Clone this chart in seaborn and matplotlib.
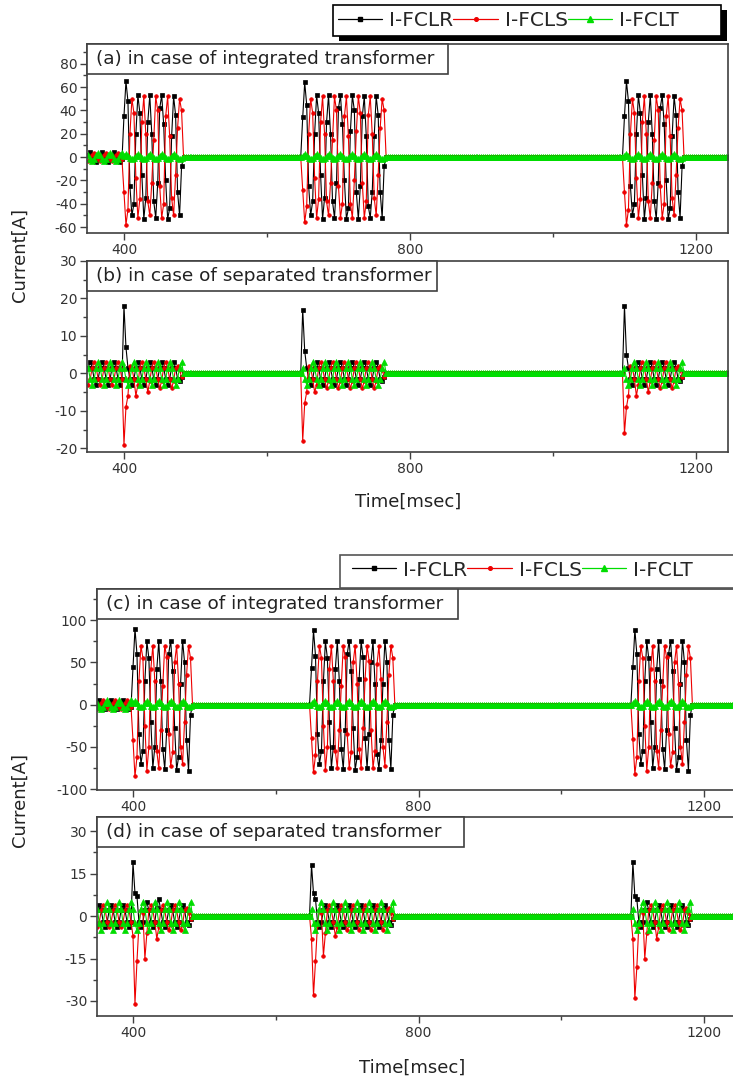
import numpy as np
import pandas as pd
import matplotlib
matplotlib.use("Agg")
import matplotlib.pyplot as plt
from matplotlib.patches import Rectangle
from matplotlib.lines import Line2D
from matplotlib.ticker import MultipleLocator, FixedLocator
import seaborn as sns

# ---------------------------------------------------------------- data
# sampling clock: 6 samples per 60 Hz cycle, 350 ms .. 1250 ms
T0 = 350.0
DT = 1000.0 / 60.0 / 6.0
N_SAMPLES = 325
FAULT_START_MS = [400, 650, 1100]          # three fault events
SERIES = ["I-FCLR", "I-FCLS", "I-FCLT"]
TIME_TICKS = [400, 800, 1200]
PANEL_TITLES = ["(a) in case of integrated transformer",
                "(b) in case of separated transformer",
                "(c) in case of integrated transformer",
                "(d) in case of separated transformer"]

# each series: [pre-fault cycles, event-1 cycles, event-2 cycles, event-3 cycles]
# (values outside these segments are flat at 0 A)
A_R = [[[2, 4, 2, -2, -4, -2]] * 3,
       [[35, 65, 48, -25, -50, -40], [20, 53, 38, -15, -53, -35], [30, 53, 20, -38, -52, -22],
        [42, 53, 28, -20, -53, -44], [18, 52, 36, -30, -50, -8]],
       [[34, 64, 45, -25, -50, -38], [20, 53, 38, -15, -53, -35], [30, 53, 20, -38, -52, -22],
        [42, 53, 28, -20, -53, -44], [22, 53, 40, -30, -53, -25], [35, 52, 18, -42, -52, -30],
        [18, 52, 36, -30, -52, -8]],
       [[35, 65, 48, -25, -50, -40], [20, 53, 38, -15, -53, -35], [30, 53, 20, -38, -53, -22],
        [42, 53, 28, -20, -53, -44], [18, 52, 36, -30, -52, -8]]]
A_S = [[[-3.5, -2, 2, 3.5, 2, -2]] * 3,
       [[-30, -58, -45, 20, 50, 38], [-18, -52, -36, 30, 52, 20], [-38, -50, -22, 15, 52, 40],
        [-25, -52, -40, 35, 52, 18], [-35, -50, -15, 25, 50, 40]],
       [[-28, -56, -42, 20, 50, 38], [-18, -52, -36, 30, 52, 20], [-38, -50, -22, 15, 52, 40],
        [-25, -52, -40, 35, 52, 18], [-40, -52, -20, 22, 52, 38], [-22, -52, -38, 36, 52, 20],
        [-35, -50, -15, 25, 50, 40]],
       [[-30, -58, -45, 20, 50, 38], [-18, -52, -36, 30, 52, 20], [-38, -52, -22, 15, 52, 40],
        [-25, -52, -40, 35, 52, 18], [-35, -50, -15, 25, 50, 40]]]
A_T = [[[2, -2, -3.5, -2, 2, 3.5]] * 3,
       [[1, 3, 1, -1, -2, -1]] * 5,
       [[1, 3, 1, -1, -2, -1]] * 7,
       [[1, 3, 1, -1, -2, -1]] * 5]

B_R = [[[1.5, 3, 1.5, -1.5, -3, -1.5]] * 3,
       [[18, 7, 1.5, -1.5, -3, -1.5]] + [[1.5, 3, 1.5, -1.5, -3, -1.5]] * 3 + [[1.5, 3, 1.5, -1.5, -2, -1]],
       [[17, 6, 1.5, -1.5, -3, -1.5]] + [[1.5, 3, 1.5, -1.5, -3, -1.5]] * 5 + [[1.5, 3, 1.5, -1.5, -2, -1]],
       [[18, 5, 1.5, -1.5, -3, -1.5]] + [[1.5, 3, 1.5, -1.5, -3, -1.5]] * 3 + [[1.5, 3, 1.5, -1.5, -2, -1]]]
B_S = [[[-3, -1.5, 1.5, 3, 1.5, -1.5]] * 3,
       [[-19, -9, -6, 2, 1.5, -1.5], [-6, -3, 1.5, 3, 1.5, -1.5], [-5, -2, 1.5, 3, 1.5, -1.5],
        [-4, -2, 1.5, 3, 1.5, -1.5], [-4, -2, 1.5, 2, 1, -1]],
       [[-18, -8, -5, 2, 1.5, -1.5], [-5, -3, 1.5, 3, 1.5, -1.5]] + [[-4, -2, 1.5, 3, 1.5, -1.5]] * 4
       + [[-4, -2, 1.5, 2, 1, -1]],
       [[-16, -9, -6, 2, 1.5, -1.5], [-6, -3, 1.5, 3, 1.5, -1.5], [-5, -2, 1.5, 3, 1.5, -1.5],
        [-4, -2, 1.5, 3, 1.5, -1.5], [-4, -2, 1.5, 2, 1, -1]]]
B_T = [[[1.5, -1.5, -3, -1.5, 1.5, 3]] * 3,
       [[1.5, -1.5, -3, -1.5, 1.5, 3]] * 5,
       [[1.5, -1.5, -3, -1.5, 1.5, 3]] * 7,
       [[1.5, -1.5, -3, -1.5, 1.5, 3]] * 5]

C_R = [[[2.5, 5, 2.5, -2.5, -5, -2.5]] * 3,
       [[45, 90, 60, -35, -70, -55], [28, 75, 55, -20, -75, -50], [42, 75, 28, -52, -76, -30],
        [60, 76, 40, -28, -77, -62], [25, 76, 50, -42, -78, -12]],
       [[44, 88, 58, -35, -70, -55], [28, 75, 55, -20, -75, -50], [42, 75, 28, -52, -76, -30],
        [60, 76, 40, -28, -77, -62], [30, 75, 56, -40, -75, -35], [50, 75, 25, -58, -76, -42],
        [25, 76, 50, -42, -76, -12]],
       [[45, 89, 60, -35, -70, -55], [28, 75, 55, -20, -75, -50], [42, 75, 28, -52, -76, -30],
        [60, 76, 40, -28, -77, -62], [25, 76, 50, -42, -78, -12]]]
C_S = [[[-5, -2.5, 2.5, 5, 2.5, -2.5]] * 3,
       [[-42, -85, -62, 28, 70, 55], [-25, -78, -50, 42, 70, 28], [-55, -75, -30, 22, 70, 56],
        [-35, -73, -56, 50, 70, 25], [-50, -70, -20, 35, 70, 55]],
       [[-40, -80, -60, 28, 70, 55], [-25, -77, -50, 42, 70, 28], [-55, -75, -30, 22, 70, 56],
        [-35, -75, -56, 50, 70, 25], [-52, -75, -28, 30, 70, 52], [-30, -75, -55, 48, 70, 30],
        [-50, -72, -20, 35, 70, 55]],
       [[-41, -82, -62, 28, 70, 55], [-25, -78, -50, 42, 70, 28], [-55, -75, -30, 22, 70, 56],
        [-35, -73, -56, 50, 70, 25], [-50, -70, -20, 35, 70, 55]]]
C_T = [[[2.5, -2.5, -5, -2.5, 2.5, 5]] * 3,
       [[1.5, 4, 1.5, -1.5, -3, -1.5]] * 5,
       [[1.5, 4, 1.5, -1.5, -3, -1.5]] * 7,
       [[1.5, 4, 1.5, -1.5, -3, -1.5]] * 5]

D_R = [[[2, 4, 2, -2, -4, -2]] * 3,
       [[19, 8, 7, -2, -4, -2], [2, 5, 2, -2, -4, -2], [3, 6, 2, -2, -4, -2],
        [2, 4, 2, -2, -4, -2], [2, 4, 2, -2, -3, -1]],
       [[18, 8, 6, -2, -4, -2]] + [[2, 4, 2, -2, -4, -2]] * 5 + [[2, 4, 2, -2, -3, -1]],
       [[19, 7, 6, -2, -4, -2], [2, 5, 2, -2, -4, -2], [2, 4, 2, -2, -4, -2],
        [2, 4, 2, -2, -4, -2], [2, 4, 2, -2, -3, -1]]]
D_S = [[[-4, -2, 2, 4, 2, -2]] * 3,
       [[-7, -31, -16, -3, 2, 1], [-15, -6, 2, 4, 2, -2], [-8, -4, 2, 4, 2, -2],
        [-5, -3, 2, 4, 2, -2], [-5, -3, 2, 3, 1, -1]],
       [[-8, -28, -16, -3, 2, 1], [-14, -6, 2, 4, 2, -2], [-7, -4, 2, 4, 2, -2]]
       + [[-5, -3, 2, 4, 2, -2]] * 3 + [[-5, -3, 2, 3, 1, -1]],
       [[-8, -29, -18, -3, 2, 1], [-15, -6, 2, 4, 2, -2], [-8, -4, 2, 4, 2, -2],
        [-5, -3, 2, 4, 2, -2], [-5, -3, 2, 3, 1, -1]]]
D_T = [[[2.5, -2.5, -5, -2.5, 2.5, 5]] * 3,
       [[2.5, -2.5, -5, -2.5, 2.5, 5]] * 5,
       [[2.5, -2.5, -5, -2.5, 2.5, 5]] * 7,
       [[2.5, -2.5, -5, -2.5, 2.5, 5]] * 5]

PANEL_DATA = [(A_R, A_S, A_T), (B_R, B_S, B_T), (C_R, C_S, C_T), (D_R, D_S, D_T)]

times = T0 + DT * np.arange(N_SAMPLES)


def assemble(segments):
    vals = np.zeros(N_SAMPLES)
    flat = lambda cyc: [v for c in cyc for v in c]
    pre = flat(segments[0])
    vals[:len(pre)] = pre
    for start_ms, seg in zip(FAULT_START_MS, segments[1:]):
        i0 = int(round((start_ms - T0) / DT))
        ev = flat(seg)
        vals[i0:i0 + len(ev)] = ev
    return vals


frames = []
for p, triple in enumerate(PANEL_DATA):
    for name, segs in zip(SERIES, triple):
        frames.append(pd.DataFrame({"panel": p, "series": name,
                                    "time": times, "current": assemble(segs)}))
df = pd.concat(frames, ignore_index=True)

# ---------------------------------------------------------------- style
sns.set_style("ticks")
plt.rcParams["font.family"] = ["DejaVu Sans"]
plt.rcParams["axes.unicode_minus"] = False

COLORS = {"I-FCLR": "black", "I-FCLS": "#ee0000", "I-FCLT": "#00dd00"}
MARKERS = {"I-FCLR": "s", "I-FCLS": "o", "I-FCLT": "^"}
MSIZE = {"I-FCLR": 2.6, "I-FCLS": 2.6, "I-FCLT": 5.0}
SPINE = "#404040"

W, H = 733, 1082
fig = plt.figure(figsize=(W / 100, H / 100), dpi=100)

# (left, top, right, bottom) in pixels, xlim, ylim, major, minor, label-box right
LAYOUT = [
    ((87, 44, 728, 233), (348.3, 1244.8), (-65, 97), 20, 10, 448),
    ((87, 261, 728, 452), (348.3, 1244.8), (-21, 30), 10, 5, 437),
    ((97, 589, 745, 790), (349.6, 1257), (-101, 137), 50, 25, 458),
    ((97, 817, 745, 1016), (349.6, 1257), (-35.3, 35), 15, 7.5, 464),
]

for p, ((l, t, r, b), xl, yl, maj, mnr, box_r) in enumerate(LAYOUT):
    ax = fig.add_axes([l / W, 1 - b / H, (r - l) / W, (b - t) / H])
    sub = df[df["panel"] == p]
    for name in SERIES:
        s = sub[sub["series"] == name]
        sns.lineplot(data=s, x="time", y="current", ax=ax, color=COLORS[name],
                     marker=MARKERS[name], markersize=MSIZE[name],
                     markeredgecolor=COLORS[name], markeredgewidth=0.5,
                     linewidth=0.8, estimator=None, sort=False, legend=False)
    ax.set_xlim(*xl)
    ax.set_ylim(*yl)
    ax.set_xlabel("")
    ax.set_ylabel("")
    ax.xaxis.set_major_locator(FixedLocator(TIME_TICKS))
    ax.xaxis.set_minor_locator(FixedLocator([600, 1000]))
    ax.yaxis.set_major_locator(MultipleLocator(maj))
    ax.yaxis.set_minor_locator(MultipleLocator(mnr))
    ax.tick_params(which="major", direction="out", length=5, width=1.0,
                   colors=SPINE, labelsize=10, labelcolor="#333333", pad=2)
    ax.tick_params(which="minor", direction="out", length=3, width=1.0, colors=SPINE)
    for sp in ax.spines.values():
        sp.set_color(SPINE)
        sp.set_linewidth(1.2)
        sp.set_visible(True)
    # panel caption box
    wf = (box_r - l) / (r - l)
    hf = 30 / (b - t)
    ax.add_patch(Rectangle((0, 1 - hf), wf, hf, transform=ax.transAxes,
                           facecolor="white", edgecolor=SPINE, linewidth=1.2,
                           zorder=10, clip_on=False))
    ax.text(9 / (r - l), 1 - hf / 2, PANEL_TITLES[p], transform=ax.transAxes,
            ha="left", va="center", fontsize=13.3, color="#222222", zorder=11)

# axis titles
for y in (255, 800):
    fig.text(20 / W, 1 - y / H, "Current[A]", rotation=90, ha="center",
             va="center", fontsize=13, color="#222222")
for x, y in ((408, 502), (412, 1068)):
    fig.text(x / W, 1 - y / H, "Time[msec]", ha="center", va="center",
             fontsize=13, color="#222222")

# legends (manual frames)
handles = [Line2D([], [], color=COLORS[n], marker=MARKERS[n], markersize=MSIZE[n],
                  markeredgecolor=COLORS[n], linewidth=0.9) for n in SERIES]


def add_fig_rect(x0, y0, x1, y1, **kw):
    fig.patches.append(Rectangle((x0 / W, 1 - y1 / H), (x1 - x0) / W, (y1 - y0) / H,
                                 transform=fig.transFigure, figure=fig, **kw))


# legend 1 with black shadow
add_fig_rect(339, 10, 727, 41, facecolor="black", edgecolor="none", zorder=1)
add_fig_rect(333, 5, 721, 36, facecolor="white", edgecolor="black", linewidth=1.2, zorder=2)
fig.legend(handles, SERIES, ncol=3, loc="center left", bbox_to_anchor=(336 / W, 1 - 21 / H),
           frameon=False, fontsize=14.5, handlelength=2.2, handletextpad=0.35,
           columnspacing=0.0, borderpad=0.1, borderaxespad=0)

# legend 2 (cropped at the right edge)
add_fig_rect(340, 555, 760, 588, facecolor="white", edgecolor="#555555", linewidth=1.2, zorder=2)
fig.legend(handles, SERIES, ncol=3, loc="center left", bbox_to_anchor=(350 / W, 1 - 570 / H),
           frameon=False, fontsize=14.5, handlelength=2.2, handletextpad=0.35,
           columnspacing=0.0, borderpad=0.1, borderaxespad=0)

fig.savefig("out.png", dpi=100)
